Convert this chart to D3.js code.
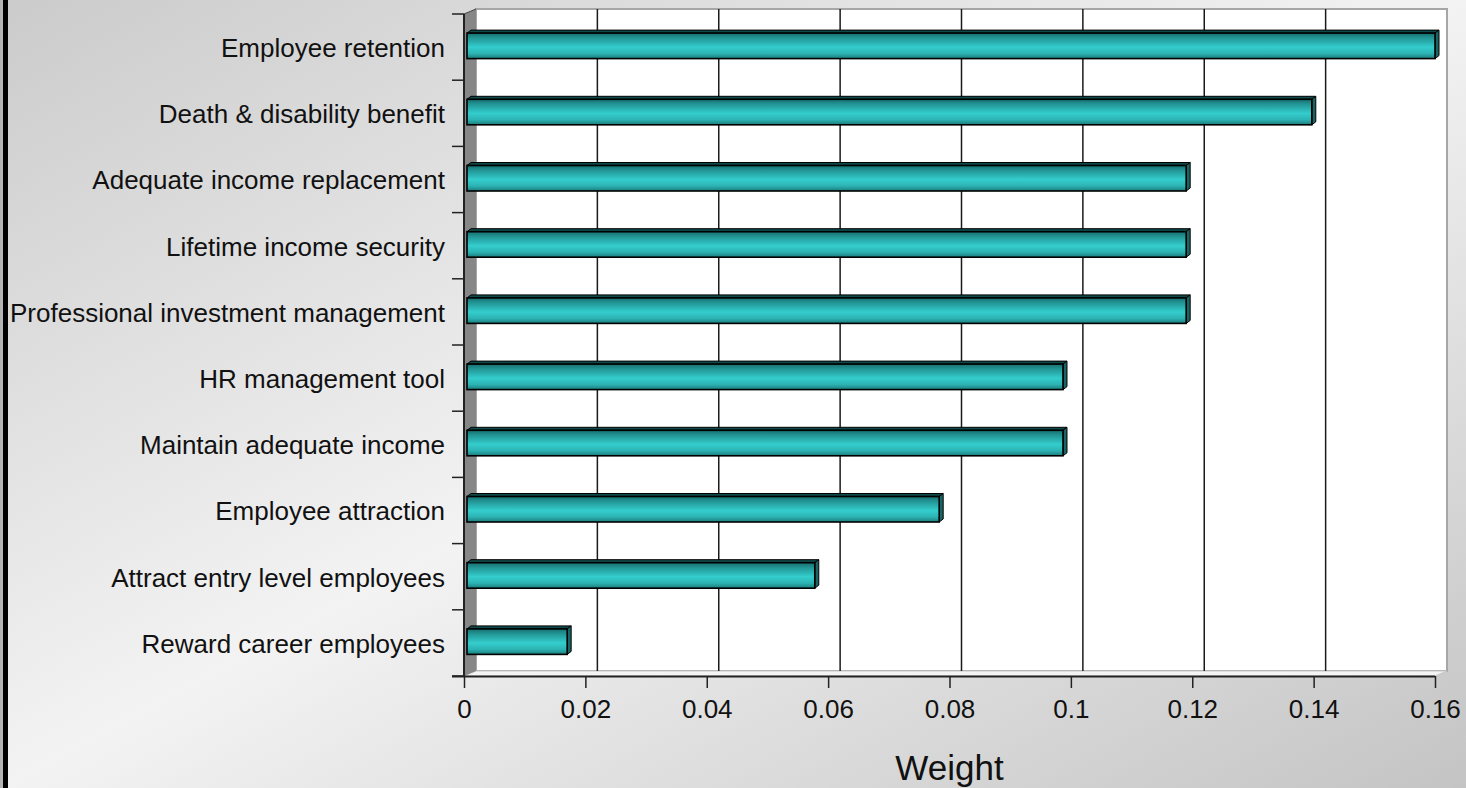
<!DOCTYPE html>
<html>
<head>
<meta charset="utf-8">
<script src="https://cdn.jsdelivr.net/npm/d3@7"></script>
<style>
  html, body { margin: 0; padding: 0; overflow: hidden; background: #fff; }
  svg { display: block; }
  text { font-family: "Liberation Sans", Arial, sans-serif; fill: #111; }
</style>
</head>
<body>
<script>
// ---- data ----
const categories = [
  "Employee retention",
  "Death & disability benefit",
  "Adequate income replacement",
  "Lifetime income security",
  "Professional investment management",
  "HR management tool",
  "Maintain adequate income",
  "Employee attraction",
  "Attract entry level employees",
  "Reward career employees"
];
const weights = [0.160, 0.1397, 0.1190, 0.1190, 0.1190, 0.0987, 0.0987, 0.0783, 0.0578, 0.0170];
const tickValues = [0, 0.02, 0.04, 0.06, 0.08, 0.1, 0.12, 0.14, 0.16];
const tickLabels = ["0", "0.02", "0.04", "0.06", "0.08", "0.1", "0.12", "0.14", "0.16"];
const axisTitle = "Weight";

(function () {
// ---- layout ----
const W = 1466, H = 788;
const pL = 464, pR = 1435, pT = 14, pB = 676;
const depthX = 12, depthY = -5;     // wall offset
const barDX = 4, barDY = -3;        // bar cap depth

const svg = d3.select("body").append("svg").attr("width", W).attr("height", H);
const defs = svg.append("defs");

const bg = defs.append("linearGradient").attr("id", "bg")
  .attr("x1", 0).attr("y1", 0).attr("x2", 1).attr("y2", 1);
bg.append("stop").attr("offset", "0%").attr("stop-color", "#cbcbcb");
bg.append("stop").attr("offset", "50%").attr("stop-color", "#f3f3f3");
bg.append("stop").attr("offset", "100%").attr("stop-color", "#c4c4c4");

const barG = defs.append("linearGradient").attr("id", "barFront")
  .attr("x1", 0).attr("y1", 0).attr("x2", 0).attr("y2", 1);
[["0%", "#166e6e"], ["18%", "#229393"], ["55%", "#34cdcd"], ["80%", "#2db3b3"], ["100%", "#1b7b7b"]]
  .forEach(([o, c]) => barG.append("stop").attr("offset", o).attr("stop-color", c));

svg.append("rect").attr("width", W).attr("height", H).attr("fill", "url(#bg)");
svg.append("rect").attr("x", 0).attr("y", 0).attr("width", 3).attr("height", H).attr("fill", "#b4b4b4");
svg.append("rect").attr("x", 3).attr("y", 0).attr("width", 5).attr("height", H).attr("fill", "#000");

const x = d3.scaleLinear().domain([0, 0.16]).range([pL, pR]);
const y = d3.scaleBand().domain(categories).range([pT, pB]).padding(0);

// back wall
svg.append("rect")
  .attr("x", x(0) + depthX).attr("y", pT + depthY)
  .attr("width", x(0.16) - x(0)).attr("height", pB - pT)
  .attr("fill", "#fff").attr("stroke", "#a6a6a6").attr("stroke-width", 2);

// floor
svg.append("path")
  .attr("d", `M${x(0)},${pB} L${x(0) + depthX},${pB + depthY} L${x(0.16) + depthX},${pB + depthY} L${x(0.16)},${pB} Z`)
  .attr("fill", "#f4f4f4").attr("stroke", "#c8c8c8").attr("stroke-width", 1);

// side wall
svg.append("path")
  .attr("d", `M${x(0)},${pT} L${x(0) + depthX},${pT + depthY} L${x(0) + depthX},${pB + depthY} L${x(0)},${pB} Z`)
  .attr("fill", "#878787");
svg.append("line")
  .attr("x1", x(0)).attr("y1", pT).attr("x2", x(0) + depthX).attr("y2", pT + depthY)
  .attr("stroke", "#444").attr("stroke-width", 1);

// gridlines on wall
svg.append("g").selectAll("line")
  .data(tickValues.filter(v => v > 0 && v < 0.16))
  .join("line")
  .attr("x1", d => x(d) + depthX).attr("x2", d => x(d) + depthX)
  .attr("y1", pT + depthY).attr("y2", pB + depthY)
  .attr("stroke", "#1a1a1a").attr("stroke-width", 1.5);

// bars
const bars = svg.append("g").selectAll("g")
  .data(categories.map((c, i) => ({ c, v: weights[i] })))
  .join("g");
const bh = 25.5;
const bTop = d => y(d.c) + y.bandwidth() / 2 - 14;
const x0 = x(0) + 3;

// top face
bars.append("path")
  .attr("d", d => {
    const t = bTop(d), xe = x(d.v);
    return `M${x0},${t} L${x0 + barDX},${t + barDY} L${xe + barDX},${t + barDY} L${xe},${t} Z`;
  })
  .attr("fill", "#0f4a4a").attr("stroke", "#000").attr("stroke-width", 1);
// right cap
bars.append("path")
  .attr("d", d => {
    const t = bTop(d), xe = x(d.v);
    return `M${xe},${t} L${xe + barDX},${t + barDY} L${xe + barDX},${t + bh + barDY} L${xe},${t + bh} Z`;
  })
  .attr("fill", "#1b6464").attr("stroke", "#000").attr("stroke-width", 1);
// front face
bars.append("rect")
  .attr("x", x0).attr("y", d => bTop(d))
  .attr("width", d => x(d.v) - x0).attr("height", bh)
  .attr("fill", "url(#barFront)").attr("stroke", "#000").attr("stroke-width", 1.6);

// left axis with category labels
const yAxis = svg.append("g").attr("transform", `translate(${x(0)},0)`)
  .call(d3.axisLeft(y).tickSize(0).tickPadding(19));
yAxis.select(".domain").remove();
yAxis.selectAll("text").attr("font-size", 26).attr("dy", "0.38em")
  .style("font-family", '"Liberation Sans", Arial, sans-serif').attr("fill", "#111");

// category boundary ticks
const bounds = categories.map(c => y(c)).concat([pB]);
svg.append("g").selectAll("line").data(bounds).join("line")
  .attr("x1", x(0) - 12).attr("x2", x(0)).attr("y1", d => d).attr("y2", d => d)
  .attr("stroke", "#222").attr("stroke-width", 1.5);
svg.append("line").attr("x1", x(0)).attr("x2", x(0)).attr("y1", pT).attr("y2", pB)
  .attr("stroke", "#222").attr("stroke-width", 2);

// bottom axis
const xAxis = svg.append("g").attr("transform", `translate(0,${pB})`)
  .call(d3.axisBottom(x).tickValues(tickValues).tickFormat((d, i) => tickLabels[i])
    .tickSize(12).tickSizeOuter(0).tickPadding(11.5));
xAxis.select(".domain").attr("stroke", "#222").attr("stroke-width", 2)
  .attr("d", `M${x(0) - 12},0.5H${x(0.16)}`);
xAxis.selectAll(".tick line").attr("stroke", "#222").attr("stroke-width", 1.5);
xAxis.selectAll("text").attr("font-size", 26)
  .style("font-family", '"Liberation Sans", Arial, sans-serif').attr("fill", "#111");

// title
svg.append("text").attr("x", (x(0) + x(0.16)) / 2).attr("y", 780)
  .attr("text-anchor", "middle").attr("font-size", 35).text(axisTitle);
})();
</script>
</body>
</html>
